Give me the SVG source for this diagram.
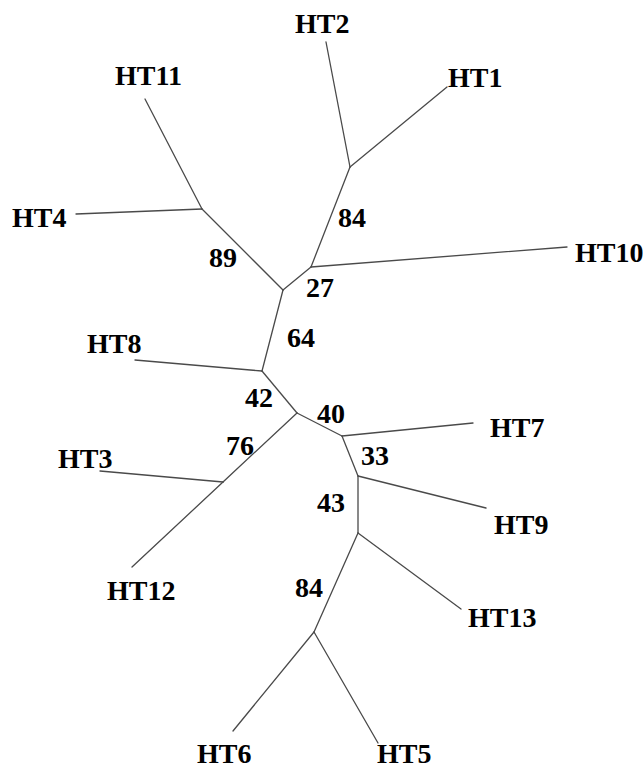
<svg xmlns="http://www.w3.org/2000/svg" width="643" height="769" viewBox="0 0 643 769">
<style>
.t{font-family:"Liberation Serif","Times New Roman",serif;font-weight:bold;font-size:28px;fill:#000}
.e{stroke:#4a4a4a;stroke-width:1.3;fill:none;stroke-linecap:round}
</style>
<rect width="643" height="769" fill="#fff"/>
<g id="connectors" class="e">
<line x1="283" y1="290" x2="311" y2="267"/>
<line x1="311" y1="267" x2="350" y2="167"/>
<line x1="350" y1="167" x2="326" y2="42"/>
<line x1="350" y1="167" x2="447" y2="87"/>
<line x1="311" y1="267" x2="567" y2="247"/>
<line x1="283" y1="290" x2="202" y2="209"/>
<line x1="202" y1="209" x2="145" y2="99"/>
<line x1="202" y1="209" x2="76" y2="214"/>
<line x1="283" y1="290" x2="262" y2="371"/>
<line x1="262" y1="371" x2="135" y2="360"/>
<line x1="262" y1="371" x2="297" y2="413"/>
<line x1="297" y1="413" x2="223" y2="482"/>
<line x1="223" y1="482" x2="100" y2="471"/>
<line x1="223" y1="482" x2="132" y2="567"/>
<line x1="297" y1="413" x2="342" y2="436"/>
<line x1="342" y1="436" x2="473" y2="423"/>
<line x1="342" y1="436" x2="358" y2="476"/>
<line x1="358" y1="476" x2="486" y2="508"/>
<line x1="358" y1="476" x2="358" y2="533"/>
<line x1="358" y1="533" x2="461" y2="609"/>
<line x1="358" y1="533" x2="314" y2="632"/>
<line x1="314" y1="632" x2="233" y2="731"/>
<line x1="314" y1="632" x2="378" y2="743"/>
</g>
<g id="HT2"><text class="t" x="295" y="33">HT2</text></g>
<g id="HT1"><text class="t" x="448" y="87">HT1</text></g>
<g id="HT11"><text class="t" x="115" y="85">HT11</text></g>
<g id="HT4"><text class="t" x="12" y="227">HT4</text></g>
<g id="HT10"><text class="t" x="575" y="262">HT10</text></g>
<g id="HT8"><text class="t" x="87" y="353">HT8</text></g>
<g id="HT7"><text class="t" x="490" y="437">HT7</text></g>
<g id="HT3"><text class="t" x="58" y="468">HT3</text></g>
<g id="HT9"><text class="t" x="494" y="534">HT9</text></g>
<g id="HT12"><text class="t" x="107" y="600">HT12</text></g>
<g id="HT13"><text class="t" x="468" y="627">HT13</text></g>
<g id="HT6"><text class="t" x="197" y="763">HT6</text></g>
<g id="HT5"><text class="t" x="377" y="763">HT5</text></g>
<g id="n89"><text class="t" x="209" y="267">89</text></g>
<g id="n84a"><text class="t" x="338" y="227">84</text></g>
<g id="n27"><text class="t" x="306" y="297">27</text></g>
<g id="n64"><text class="t" x="287" y="347">64</text></g>
<g id="n42"><text class="t" x="245" y="407">42</text></g>
<g id="n40"><text class="t" x="317" y="423">40</text></g>
<g id="n76"><text class="t" x="226" y="455">76</text></g>
<g id="n33"><text class="t" x="361" y="465">33</text></g>
<g id="n43"><text class="t" x="317" y="512">43</text></g>
<g id="n84b"><text class="t" x="295" y="597">84</text></g>
</svg>
